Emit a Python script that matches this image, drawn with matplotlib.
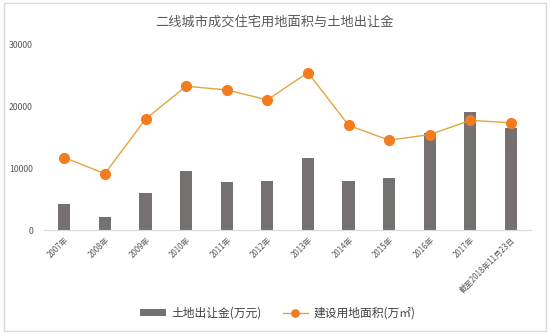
import matplotlib
matplotlib.use("Agg")
import matplotlib.pyplot as plt
import matplotlib.patches as patches
import numpy as np

plt.rcParams['font.family'] = ['Noto Sans CJK SC', 'DejaVu Sans']

years = ['2007年', '2008年', '2009年', '2010年', '2011年', '2012年',
         '2013年', '2014年', '2015年', '2016年', '2017年', '截至2018年11月23日']
land_fee = [4200, 2100, 6000, 9600, 7700, 7950, 11550, 8000, 8400, 15700, 19100, 16400]
land_area = [11700, 9100, 17900, 23200, 22600, 21000, 25400, 16900, 14500, 15400, 17700, 17300]

fig = plt.figure(figsize=(5.5, 3.36), dpi=100)
ax = fig.add_axes([0.08, 0.315, 0.886, 0.554])

x = np.arange(len(years))
bars = ax.bar(x, land_fee, width=0.3, color='#767171', label='土地出让金(万元)', zorder=2)
line, = ax.plot(x, land_area, color='#E3A63A', lw=1, marker='o', markersize=7,
                markerfacecolor='#F37B20', markeredgecolor='#F37B20',
                label='建设用地面积(万㎡)', zorder=3)

ax.set_xlim(-0.5, len(years) - 0.5)
ax.set_ylim(0, 30000)
ax.set_yticks([0, 10000, 20000, 30000])
ax.tick_params(axis='y', length=0, pad=8, labelsize=6.3, labelcolor='#595959')
ax.set_xticks(x)
ax.set_xticklabels(years, rotation=45, ha='right', rotation_mode='anchor',
                   fontsize=5.7, color='#595959')
ax.tick_params(axis='x', length=0, pad=4)
for s in ['top', 'right', 'left']:
    ax.spines[s].set_visible(False)
ax.spines['bottom'].set_color('#D9D9D9')

fig.text(0.5, 0.935, '二线城市成交住宅用地面积与土地出让金', ha='center', va='center',
         fontsize=9.5, color='#595959')

fig.legend([bars, line], ['土地出让金(万元)', '建设用地面积(万㎡)'],
           loc='center', bbox_to_anchor=(0.505, 0.068), ncol=2, frameon=False,
           fontsize=8.5, labelcolor='#404040', handlelength=2.2, handleheight=0.5,
           columnspacing=1.8, handletextpad=0.4, markerscale=0.75)

fig.patches.append(patches.Rectangle((0.007, 0.015), 0.986, 0.975, transform=fig.transFigure,
                                     fill=False, edgecolor='#D9D9D9', lw=1))

fig.savefig('out.png', dpi=100)
